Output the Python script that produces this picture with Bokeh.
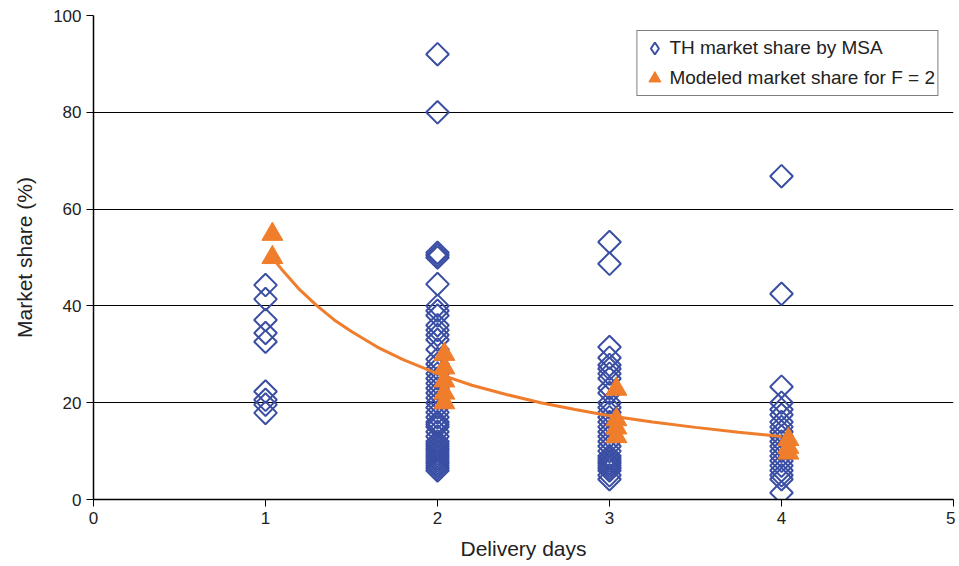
import numpy as np
from bokeh.plotting import figure
from bokeh.models import ColumnDataSource, Legend, LegendItem, Range1d, FixedTicker
from bokeh.embed import file_html
from bokeh.resources import INLINE

# Observed TH market share by MSA (delivery days, share %)
obs_days = ([1] * 9 + [2] * 45 + [3] * 30 + [4] * 20)
obs_share = (
    [44.3, 41.4, 37.1, 34.4, 32.6, 22.3, 20.6, 19.6, 17.9]
    + [92, 80, 51, 50.5, 50, 44.5, 40, 39, 38, 36, 35, 34, 33, 31, 29, 28, 27, 26, 25, 24,
       23, 22, 21, 20, 19, 18, 17, 16, 15.5, 15, 14, 13, 12, 11.5, 11, 10.5, 10, 9.5, 9,
       8.5, 8, 7.5, 7, 6.5, 6]
    + [53.2, 48.7, 31.5, 29.3, 27.8, 27, 26, 25, 23, 22, 20, 19, 18, 17, 16, 15, 14, 13,
       12, 11, 10, 9, 8.5, 8, 7.5, 7, 6.5, 6, 5, 4.2]
    + [66.8, 42.5, 23.3, 20, 18.6, 17.5, 16, 15, 14, 13, 12, 11, 10, 9, 8, 7, 6, 5, 4.2, 1.4]
)

# Modeled market share for F = 2
model_days = [1.04, 1.04, 2.04, 2.04, 2.04, 2.04, 2.04, 3.04, 3.04, 3.04, 3.04, 4.04, 4.04, 4.04]
model_share = [54.8, 50, 30, 27.2, 24.5, 22, 20, 22.8, 16.5, 14.8, 13, 12.4, 10.8, 9.6]

# Fitted curve
curve_days = [1.05, 1.1, 1.2, 1.3, 1.4, 1.5, 1.65, 1.8, 2.0, 2.2, 2.4, 2.6, 2.8, 3.0,
              3.25, 3.5, 3.75, 4.0]
curve_share = [49.5, 47.3, 43.3, 40.0, 37.1, 34.7, 31.5, 28.9, 26.0, 23.6, 21.7, 20.0,
               18.6, 17.3, 16.0, 14.9, 13.9, 13.0]

x_ticks = [0, 1, 2, 3, 4, 5]
y_ticks = [0, 20, 40, 60, 80, 100]

BLUE = "#3a4ea3"
ORANGE = "#ef7d2b"
FONT = "Liberation Sans"

p = figure(width=955, height=562, output_backend="svg", toolbar_location=None,
           x_range=Range1d(0, 5), y_range=Range1d(0, 100),
           min_border_left=93, min_border_right=2, min_border_top=15, min_border_bottom=62)
p.outline_line_color = None
p.background_fill_color = "white"

p.xgrid.grid_line_color = None
p.ygrid.grid_line_color = "black"
p.ygrid.grid_line_width = 1
p.ygrid.ticker = FixedTicker(ticks=y_ticks)

for ax in (p.xaxis, p.yaxis):
    ax.axis_line_color = "black"
    ax.axis_line_width = 1.5
    ax.major_tick_line_color = "black"
    ax.major_tick_out = 7
    ax.major_tick_in = 0
    ax.minor_tick_line_color = None
    ax.major_label_text_font = FONT
    ax.major_label_text_font_size = "17px"
    ax.major_label_text_color = "#222222"
    ax.axis_label_text_font = FONT
    ax.axis_label_text_font_size = "21px"
    ax.axis_label_text_font_style = "normal"
    ax.axis_label_text_color = "#222222"

p.xaxis.ticker = FixedTicker(ticks=x_ticks)
p.yaxis.ticker = FixedTicker(ticks=y_ticks)
p.xaxis.axis_label = "Delivery days"
p.yaxis.axis_label = "Market share (%)"
p.xaxis.axis_label_standoff = 10
p.yaxis.axis_label_standoff = 14

obs_src = ColumnDataSource(dict(x=obs_days, y=obs_share))
model_src = ColumnDataSource(dict(x=model_days, y=model_share))
curve_src = ColumnDataSource(dict(x=curve_days, y=curve_share))

p.scatter("x", "y", source=obs_src, marker="square", size=16, angle=np.pi / 4,
          fill_color="white", fill_alpha=0.0, line_color=BLUE, line_width=2)
p.line("x", "y", source=curve_src, line_color=ORANGE, line_width=3)
r_mod = p.scatter("x", "y", source=model_src, marker="triangle", size=21,
                  fill_color=ORANGE, line_color=ORANGE, line_width=1)

# legend-only stand-in for the rotated-square marker (legend ignores angle);
# size 0 so it draws nothing in the plot area
r_leg_obs = p.scatter("x", "y", source=obs_src, marker="diamond", size=0,
                      fill_color="white", line_color=BLUE, line_width=2)

legend = Legend(items=[
    LegendItem(label="TH market share by MSA", renderers=[r_leg_obs]),
    LegendItem(label="Modeled market share for F = 2", renderers=[r_mod]),
], location="top_right")
legend.label_text_font = FONT
legend.label_text_font_size = "19px"
legend.label_text_color = "#222222"
legend.border_line_color = "black"
legend.border_line_width = 1
legend.background_fill_color = "white"
legend.background_fill_alpha = 1.0
legend.glyph_width = 30
legend.glyph_height = 30
legend.label_standoff = 0
legend.spacing = -1
legend.padding = 2
legend.margin = 15
p.add_layout(legend)

open("out.html", "w").write(file_html(p, INLINE))
